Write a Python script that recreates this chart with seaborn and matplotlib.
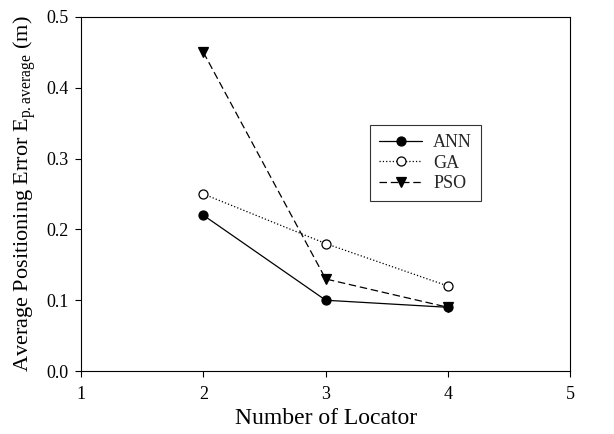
import pandas as pd
import matplotlib
matplotlib.use("Agg")
import matplotlib.pyplot as plt
import seaborn as sns

# =====================================================
# Data
# =====================================================

locators = [2, 3, 4]
ann = [0.22, 0.10, 0.09]
ga = [0.25, 0.18, 0.12]
pso = [0.45, 0.13, 0.09]

sns.set_theme(style="white")
plt.rcParams["font.family"] = ["Liberation Serif", "DejaVu Serif"]
plt.rcParams["mathtext.fontset"] = "custom"
plt.rcParams["mathtext.rm"] = "Liberation Serif"
plt.rcParams["mathtext.default"] = "regular"

fig = plt.figure(figsize=(6.14, 4.34), dpi=100)
ax = fig.add_axes([0.132, 0.145, 0.797, 0.816])

styles = [
    ("ANN", ann, "-", "o", "black"),
    ("GA", ga, ":", "o", "white"),
    ("PSO", pso, (0, (6, 3)), "v", "black"),
]

for name, vals, ls, mk, fc in styles:
    df = pd.DataFrame({"x": locators, "y": vals})
    sns.lineplot(
        data=df, x="x", y="y", ax=ax,
        color="black", linestyle=ls, linewidth=0.9,
        marker=mk, markersize=6.5, markerfacecolor=fc,
        markeredgecolor="black", markeredgewidth=0.9,
        label=name
    )

ax.set_xlim(1, 5)
ax.set_ylim(0, 0.5)
ax.set_xticks([1, 2, 3, 4, 5])
ax.set_yticks([0.0, 0.1, 0.2, 0.3, 0.4, 0.5])
ax.set_yticklabels(["0.0", "0.1", "0.2", "0.3", "0.4", "0.5"])

ax.tick_params(axis="both", direction="out", length=4, width=0.8,
               labelsize=13, colors="black", bottom=True, left=True)
ax.tick_params(axis="x", pad=7)
ax.tick_params(axis="y", pad=5)

for s in ax.spines.values():
    s.set_color("black")
    s.set_linewidth(0.8)

ax.set_xlabel("Number of Locator", fontsize=17, color="black", labelpad=3)
ax.set_ylabel("Average Positioning Error E$_{p{.}average}$ (m)",
              fontsize=16, color="black", labelpad=6)

leg = ax.legend(loc="upper left", bbox_to_anchor=(0.572, 0.72),
                frameon=True, fancybox=False, fontsize=13,
                handlelength=2.4, borderpad=0.5, labelspacing=0.2,
                handletextpad=0.6)
leg.get_frame().set_edgecolor("black")
leg.get_frame().set_linewidth(0.8)

fig.savefig("out.png", dpi=100)
